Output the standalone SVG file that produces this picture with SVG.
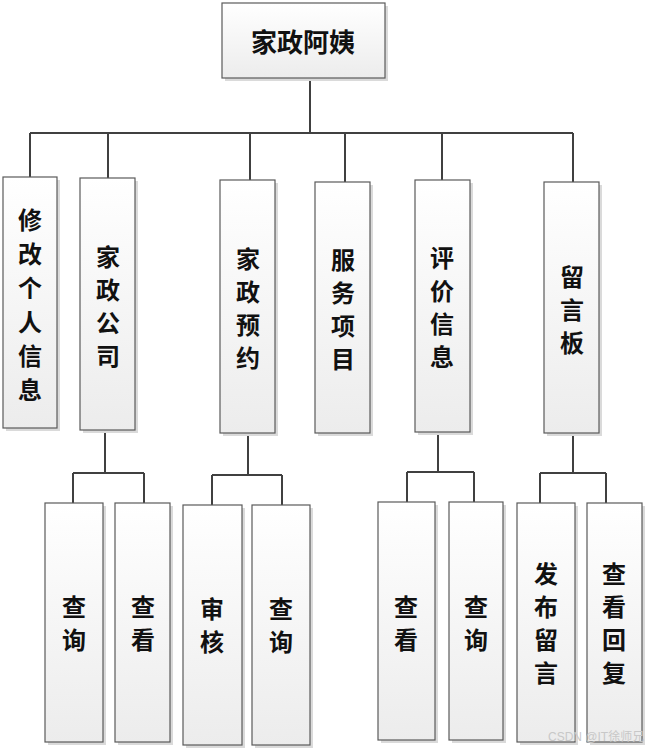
<svg xmlns="http://www.w3.org/2000/svg" width="650" height="752" viewBox="0 0 650 752">
<defs>
<linearGradient id="g" x1="0" y1="0" x2="0" y2="1">
<stop offset="0" stop-color="#ffffff"/>
<stop offset="1" stop-color="#ececec"/>
</linearGradient>
<style>
.box{fill:url(#g);stroke:#5a5a5a;stroke-width:1.2}
.sh{fill:#dadada}
.t{font-family:"Noto Sans CJK SC","Noto Sans CJK JP",sans-serif;font-size:24px;font-weight:bold;fill:#111;text-anchor:middle;dominant-baseline:central}
.c{fill:none;stroke:#404040;stroke-width:2}
.wm{font-family:"Liberation Sans","Noto Sans CJK SC",sans-serif;font-size:12px;fill:#c8c8c8}
</style>
</defs>
<rect width="650" height="752" fill="#fff"/>
<g id="connectors">
<path class="c" d="M310 78V133M30 133H573M30 133V177M108 133V178M250 133V180M345 133V182M442 133V180M573 133V182"/>
<path class="c" d="M105 430V473M73 473H144M73 473V503M144 473V503"/>
<path class="c" d="M248 433V475M212 475H282M212 475V505M282 475V505"/>
<path class="c" d="M438 432V472M407 472H474M407 472V502M474 472V502"/>
<path class="c" d="M573 433V473M540 473H606M540 473V503M606 473V503"/>
</g>
<g id="root"><rect class="sh" x="225" y="6" width="163" height="75"/><rect class="box" x="222" y="3" width="163" height="75"/><text class="t" x="303" y="40" style="font-size:26px">家政阿姨</text></g>
<g id="n1"><rect class="sh" x="6" y="180" width="54" height="251"/><rect class="box" x="3" y="177" width="54" height="251"/><text class="t" x="30" y="218"><tspan x="30">修</tspan><tspan x="30" dy="34">改</tspan><tspan x="30" dy="34">个</tspan><tspan x="30" dy="34">人</tspan><tspan x="30" dy="34">信</tspan><tspan x="30" dy="34">息</tspan></text></g>
<g id="n2"><rect class="sh" x="83" y="181" width="55" height="252"/><rect class="box" x="80" y="178" width="55" height="252"/><text class="t" x="108" y="255"><tspan x="108">家</tspan><tspan x="108" dy="33">政</tspan><tspan x="108" dy="33">公</tspan><tspan x="108" dy="33">司</tspan></text></g>
<g id="n3"><rect class="sh" x="223" y="183" width="55" height="253"/><rect class="box" x="220" y="180" width="55" height="253"/><text class="t" x="248" y="257"><tspan x="248">家</tspan><tspan x="248" dy="33">政</tspan><tspan x="248" dy="33">预</tspan><tspan x="248" dy="33">约</tspan></text></g>
<g id="n4"><rect class="sh" x="318" y="185" width="55" height="251"/><rect class="box" x="315" y="182" width="55" height="251"/><text class="t" x="343" y="258"><tspan x="343">服</tspan><tspan x="343" dy="33">务</tspan><tspan x="343" dy="33">项</tspan><tspan x="343" dy="33">目</tspan></text></g>
<g id="n5"><rect class="sh" x="418" y="183" width="55" height="252"/><rect class="box" x="415" y="180" width="55" height="252"/><text class="t" x="442" y="256"><tspan x="442">评</tspan><tspan x="442" dy="33">价</tspan><tspan x="442" dy="33">信</tspan><tspan x="442" dy="33">息</tspan></text></g>
<g id="n6"><rect class="sh" x="547" y="185" width="55" height="251"/><rect class="box" x="544" y="182" width="55" height="251"/><text class="t" x="572" y="275"><tspan x="572">留</tspan><tspan x="572" dy="33">言</tspan><tspan x="572" dy="33">板</tspan></text></g>
<g id="n7"><rect class="sh" x="48" y="506" width="58" height="239"/><rect class="box" x="45" y="503" width="58" height="239"/><text class="t" x="74" y="605"><tspan x="74">查</tspan><tspan x="74" dy="33">询</tspan></text></g>
<g id="n8"><rect class="sh" x="118" y="506" width="55" height="239"/><rect class="box" x="115" y="503" width="55" height="239"/><text class="t" x="143" y="605"><tspan x="143">查</tspan><tspan x="143" dy="33">看</tspan></text></g>
<g id="n9"><rect class="sh" x="186" y="508" width="59" height="240"/><rect class="box" x="183" y="505" width="59" height="240"/><text class="t" x="212" y="607"><tspan x="212">审</tspan><tspan x="212" dy="33">核</tspan></text></g>
<g id="n10"><rect class="sh" x="255" y="508" width="58" height="240"/><rect class="box" x="252" y="505" width="58" height="240"/><text class="t" x="281" y="607"><tspan x="281">查</tspan><tspan x="281" dy="33">询</tspan></text></g>
<g id="n11"><rect class="sh" x="381" y="505" width="57" height="238"/><rect class="box" x="378" y="502" width="57" height="238"/><text class="t" x="406" y="605"><tspan x="406">查</tspan><tspan x="406" dy="33">看</tspan></text></g>
<g id="n12"><rect class="sh" x="452" y="505" width="54" height="238"/><rect class="box" x="449" y="502" width="54" height="238"/><text class="t" x="476" y="605"><tspan x="476">查</tspan><tspan x="476" dy="33">询</tspan></text></g>
<g id="n13"><rect class="sh" x="520" y="506" width="58" height="239"/><rect class="box" x="517" y="503" width="58" height="239"/><text class="t" x="546" y="572"><tspan x="546">发</tspan><tspan x="546" dy="33">布</tspan><tspan x="546" dy="33">留</tspan><tspan x="546" dy="33">言</tspan></text></g>
<g id="n14"><rect class="sh" x="590" y="506" width="55" height="239"/><rect class="box" x="587" y="503" width="55" height="239"/><text class="t" x="614" y="572"><tspan x="614">查</tspan><tspan x="614" dy="33">看</tspan><tspan x="614" dy="33">回</tspan><tspan x="614" dy="33">复</tspan></text></g>
<text class="wm" x="548" y="741">CSDN @IT徐师兄</text>
</svg>
